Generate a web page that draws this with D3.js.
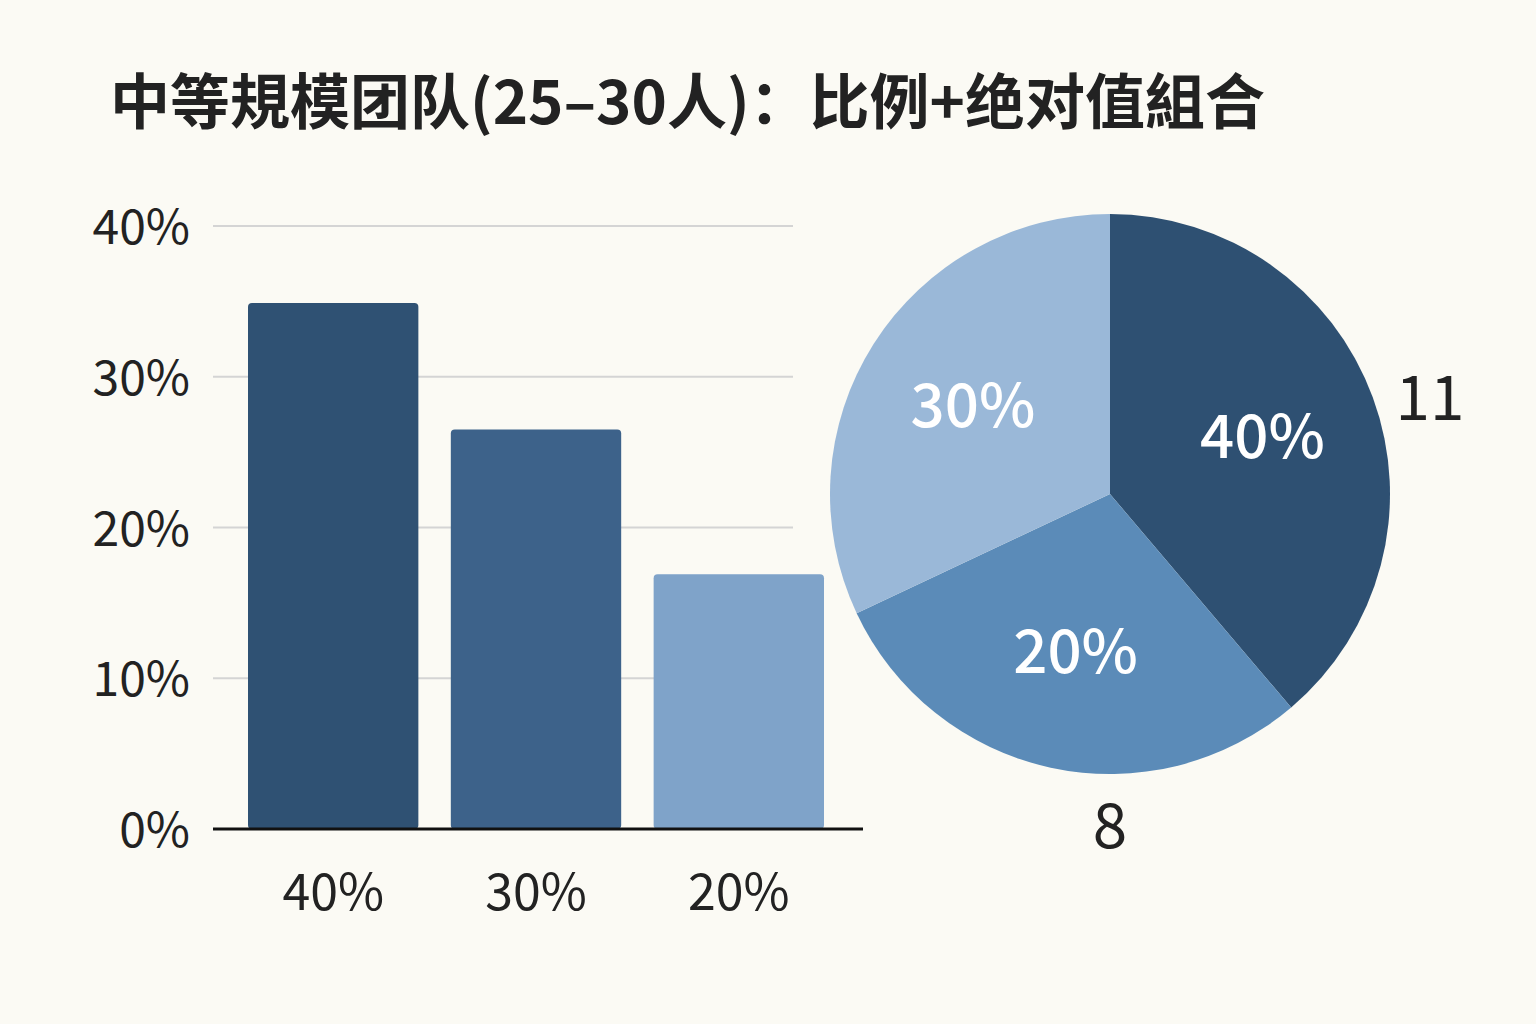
<!DOCTYPE html>
<html><head><meta charset="utf-8">
<script src="https://cdn.jsdelivr.net/npm/d3@7"></script>
<style>body{margin:0;background:#fbfaf4}</style>
</head><body>
<svg id="c" width="1536" height="1024"></svg>
<script>
const barLabels = ["40%", "30%", "20%"];
const barValues = [34.9, 26.5, 16.9];
const barColors = ["#2f5173", "#3d628a", "#7fa3c9"];
const yTicks = [0, 10, 20, 30, 40];
const pieLabels = ["40%", "20%", "30%"];
const pieValues = [38.8, 29.2, 32.0];
const pieColors = ["#2e5072", "#5b8bb8", "#9ab8d8"];
const pieCounts = [{text: "11", x: 1430, y: 398}, {text: "8", x: 1110, y: 826}];

const svg = d3.select("#c");
const font = "'Noto Sans CJK SC', 'Noto Sans', sans-serif";
svg.append("rect").attr("width", 1536).attr("height", 1024).attr("fill", "#fbfaf4");

svg.append("text").attr("x", 110).attr("y", 124)
    .attr("font-family", font).attr("font-weight", 700).attr("font-size", 60)
    .attr("fill", "#222").text("中等規模团队(25–30人)：比例+绝对值組合");

// bar chart
const y = d3.scaleLinear().domain([0, 40]).range([829, 226]);
const x = d3.scaleBand().domain(barLabels).range([248, 824]).paddingInner(0.16);

svg.selectAll(".grid").data(yTicks.filter(d => d > 0)).join("line")
    .attr("x1", 213).attr("x2", 793)
    .attr("y1", d => y(d)).attr("y2", d => y(d))
    .attr("stroke", "#d4d4d4").attr("stroke-width", 2);

svg.selectAll(".ytick").data(yTicks).join("text")
    .attr("x", 190).attr("y", d => y(d) + 18).attr("text-anchor", "end")
    .attr("font-family", font).attr("font-size", 48).attr("fill", "#222")
    .text(d => d + "%");

svg.selectAll(".bar").data(barValues).join("rect")
    .attr("x", (d, i) => x(barLabels[i])).attr("width", x.bandwidth())
    .attr("y", d => y(d)).attr("height", d => y(0) - y(d))
    .attr("rx", 4).attr("fill", (d, i) => barColors[i]);

svg.append("line").attr("x1", 213).attr("x2", 863).attr("y1", 829).attr("y2", 829)
    .attr("stroke", "#111").attr("stroke-width", 3);

svg.selectAll(".xlab").data(barLabels).join("text")
    .attr("x", d => x(d) + x.bandwidth() / 2).attr("y", 910).attr("text-anchor", "middle")
    .attr("font-family", font).attr("font-size", 50).attr("fill", "#222").text(d => d);

// pie chart
const r = 280;
const g = svg.append("g").attr("transform", "translate(1110,494)");
const arcs = d3.pie().sort(null)(pieValues);
const arc = d3.arc().innerRadius(0).outerRadius(r);
g.selectAll("path").data(arcs).join("path")
    .attr("d", arc).attr("fill", (d, i) => pieColors[i]);
const labelArc = d3.arc().innerRadius(r * 0.58).outerRadius(r * 0.58);
g.selectAll(".pl").data(arcs).join("text")
    .attr("transform", d => "translate(" + labelArc.centroid(d) + ")")
    .attr("dy", 20).attr("text-anchor", "middle")
    .attr("font-family", font).attr("font-weight", 500).attr("font-size", 60).attr("fill", "#fff")
    .text((d, i) => pieLabels[i]);

svg.selectAll(".cnt").data(pieCounts).join("text")
    .attr("x", d => d.x).attr("y", d => d.y + 22).attr("text-anchor", "middle")
    .attr("font-family", font).attr("font-size", 62).attr("fill", "#222").text(d => d.text);
</script>
</body></html>
